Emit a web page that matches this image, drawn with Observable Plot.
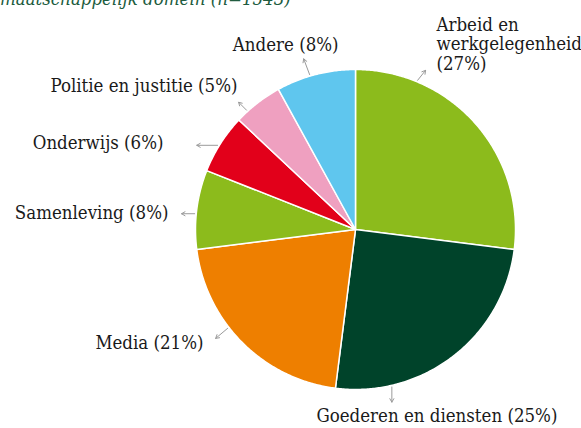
<!DOCTYPE html>
<html>
<head>
<meta charset="utf-8">
<script src="https://cdn.jsdelivr.net/npm/d3@7"></script>
<script src="https://cdn.jsdelivr.net/npm/@observablehq/plot@0.6"></script>
<style>
  html, body { margin: 0; padding: 0; background: #fff; }
  #wrap { position: relative; width: 581px; height: 428px; overflow: hidden; }
  #title { position: absolute; left: 0; top: -11px; font-family: "DejaVu Serif Condensed", "DejaVu Serif", serif; font-stretch: condensed; font-style: italic; font-size: 18.5px; line-height: 20px; color: #215c40; white-space: nowrap; }
  #chart { position: absolute; left: 0; top: 0; }
</style>
</head>
<body>
<div id="wrap">
  <div id="title">maatschappelijk domein (n=1543)</div>
  <div id="chart"></div>
</div>
<script>
// ---- data ----
const categories = ["Arbeid en werkgelegenheid", "Goederen en diensten", "Media", "Samenleving", "Onderwijs", "Politie en justitie", "Andere"];
const shares = [27, 25, 21, 8, 6, 5, 8];
const labelTexts = ["Arbeid en\nwerkgelegenheid\n(27%)", "Goederen en diensten (25%)", "Media (21%)", "Samenleving (8%)", "Onderwijs (6%)", "Politie en justitie (5%)", "Andere (8%)"];
const colors = ["#8cbb1c", "#00432a", "#ee7f00", "#8cbb1c", "#e2001a", "#efa0c0", "#5fc6ee"];

// ---- layout (label / arrow placement, in pie-radius units) ----
const arrowRim = [22.6, 167, 232.3, 275.6, 301.4, 317.6, 343.5];
const arrowDir = [38.7, 180, 230, 270, 270, 315, 339.4];
const arrowLen = [0.08, 0.095, 0.098, 0.082, 0.13, 0.07, 0.105];
const labelX = [0.506, -0.244, -0.95, -1.169, -1.2, -0.7375, -0.106];
const labelY = [1.159, -1.166, -0.709, 0.103, 0.541, 0.897, 1.1525];
const labelAnchor = ["start", "start", "end", "end", "end", "end", "end"];

const serif = "'DejaVu Serif Condensed', 'DejaVu Serif', serif";

// ---- geometry via d3.pie ----
const arcs = d3.pie().sort(null).startAngle(0).endAngle(2 * Math.PI)(shares);
const slices = arcs.map((a, i) => {
  const pts = [{x: 0, y: 0}];
  const n = Math.max(2, Math.ceil((a.endAngle - a.startAngle) / (Math.PI / 360)));
  for (let k = 0; k <= n; k++) {
    const t = a.startAngle + (a.endAngle - a.startAngle) * k / n;
    pts.push({x: Math.sin(t), y: Math.cos(t)});
  }
  pts.push({x: 0, y: 0});
  return pts;
});

const rad = d => d * Math.PI / 180;
const arrows = categories.map((c, i) => {
  const r = 1.01;
  const x1 = r * Math.sin(rad(arrowRim[i])), y1 = r * Math.cos(rad(arrowRim[i]));
  return {x1, y1, x2: x1 + arrowLen[i] * Math.sin(rad(arrowDir[i])), y2: y1 + arrowLen[i] * Math.cos(rad(arrowDir[i]))};
});
const labels = categories.map((c, i) => ({text: labelTexts[i], x: labelX[i], y: labelY[i], anchor: labelAnchor[i]}));

const plot = Plot.plot({
  width: 581,
  height: 428,
  margin: 0,
  style: {background: "transparent", fontFamily: serif, fontStretch: "condensed"},
  x: {domain: [-1, 1], range: [195, 515], axis: null},
  y: {domain: [-1, 1], range: [389, 69], axis: null},
  marks: [
    ...slices.map((pts, i) => Plot.line(pts, {x: "x", y: "y", fill: colors[i], stroke: "white", strokeWidth: 1.5, strokeLinejoin: "round", curve: "linear"})),
    Plot.arrow(arrows, {x1: "x1", y1: "y1", x2: "x2", y2: "y2", stroke: "#9a9a9a", strokeWidth: 1, headLength: 6, bend: 0}),
    ...["start", "end"].map(anc => Plot.text(labels.filter(d => d.anchor === anc), {x: "x", y: "y", text: "text", textAnchor: anc, fontSize: 18.5, lineHeight: 1.06, fill: "#1a1a1a", fontFamily: serif}))
  ]
});
plot.querySelectorAll("text").forEach(t => t.style.fontStretch = "condensed");
document.getElementById("chart").appendChild(plot);
</script>
</body>
</html>
